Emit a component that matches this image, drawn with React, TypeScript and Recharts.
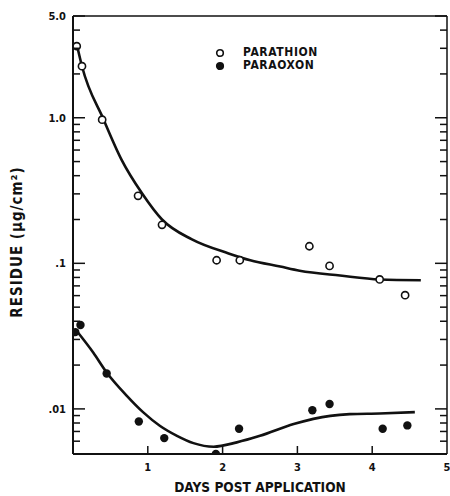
import { ComposedChart, Line, Scatter, XAxis, YAxis, Legend } from "recharts";

// observed residues (µg/cm²) by days post application
const parathionDays = [0.05, 0.12, 0.39, 0.87, 1.19, 1.92, 2.23, 3.16, 3.43, 4.1, 4.44];
const parathionResidue = [3.1, 2.26, 0.97, 0.291, 0.184, 0.105, 0.105, 0.131, 0.096, 0.0775, 0.0604];

const paraoxonDays = [0.03, 0.1, 0.45, 0.88, 1.22, 1.91, 2.22, 3.2, 3.43, 4.14, 4.47];
const paraoxonResidue = [0.0337, 0.0377, 0.0175, 0.0082, 0.0063, 0.0049, 0.0073, 0.0098, 0.0108, 0.0073, 0.0077];

// fitted curves
const parathionFitDays = [0.05, 0.12, 0.41, 0.65, 0.92, 1.19, 1.59, 2.08, 2.37, 2.77, 3.03, 3.57, 4.1, 4.65];
const parathionFitResidue = [3.2, 2.26, 0.97, 0.514, 0.304, 0.2, 0.146, 0.117, 0.105, 0.095, 0.089, 0.0824, 0.0775, 0.0766];

const paraoxonFitDays = [0.05, 0.27, 0.45, 0.72, 0.94, 1.16, 1.39, 1.61, 1.88, 2.19, 2.5, 2.95, 3.44, 3.7, 4.1, 4.57];
const paraoxonFitResidue = [0.0343, 0.0244, 0.0178, 0.0123, 0.00946, 0.00766, 0.00653, 0.00582, 0.0055, 0.00589, 0.00653, 0.00787, 0.00896, 0.0092, 0.0093, 0.0095];

const xTicks = [1, 2, 3, 4, 5];
const xTopTicks = [1, 2, 3, 4];
const yMajorTicks = [0.01, 0.1, 1, 5];
const yMajorLabels = [".01", ".1", "1.0", "5.0"];
const yMinorTicks = [
  0.006, 0.007, 0.008, 0.009,
  0.02, 0.03, 0.04, 0.05, 0.06, 0.07, 0.08, 0.09,
  0.2, 0.3, 0.4, 0.5, 0.6, 0.7, 0.8, 0.9,
  2, 3, 4,
];

const zip = (xs: number[], ys: number[]) => xs.map((x, i) => ({ x, y: ys[i] }));

const parathion = zip(parathionDays, parathionResidue);
const paraoxon = zip(paraoxonDays, paraoxonResidue);
const parathionFit = zip(parathionFitDays, parathionFitResidue);
const paraoxonFit = zip(paraoxonFitDays, paraoxonFitResidue);

const INK = "#111";
const FONT = "'Liberation Sans Narrow', 'DejaVu Sans Condensed', 'Arial Narrow', sans-serif";
const yTicks = [...yMinorTicks, ...yMajorTicks].sort((a, b) => a - b);

function LeftTick({ x, y, payload }: any) {
  const i = yMajorTicks.indexOf(payload.value);
  const len = i >= 0 ? 12 : 7;
  return (
    <g>
      <line x1={x} x2={x + len} y1={y} y2={y} stroke={INK} strokeWidth={1.5} />
      {i >= 0 && (
        <text x={x - 7} y={y} dy={4} textAnchor="end" fontFamily={FONT} fontWeight="bold" fontSize={11} fill={INK}>
          {yMajorLabels[i]}
        </text>
      )}
    </g>
  );
}

function RightTick({ x, y, payload }: any) {
  const len = yMajorTicks.includes(payload.value) ? 12 : 7;
  return <line x1={x} x2={x - len} y1={y} y2={y} stroke={INK} strokeWidth={1.5} />;
}

function BottomTick({ x, y, payload }: any) {
  return (
    <g>
      {payload.value < 5 && <line x1={x} x2={x} y1={y} y2={y - 8} stroke={INK} strokeWidth={1.5} />}
      <text x={x} y={y + 17} textAnchor="middle" fontFamily={FONT} fontWeight="bold" fontSize={11} fill={INK}>
        {payload.value}
      </text>
    </g>
  );
}

function TopTick({ x, y }: any) {
  return <line x1={x} x2={x} y1={y} y2={y + 6} stroke={INK} strokeWidth={1.5} />;
}

function YLabel({ viewBox }: any) {
  const cx = viewBox.x + 22;
  const cy = viewBox.y + viewBox.height / 2 + 7;
  return (
    <text
      x={cx}
      y={cy}
      transform={`rotate(-90 ${cx} ${cy})`}
      textAnchor="middle"
      fontFamily={FONT}
      fontWeight="bold"
      fontSize={15}
      letterSpacing={1}
      fill={INK}
    >
      RESIDUE (µg/cm²)
    </text>
  );
}

function LegendBox() {
  const rows = [
    { name: "PARATHION", fill: "#fff" },
    { name: "PARAOXON", fill: INK },
  ];
  return (
    <div style={{ fontFamily: FONT, fontWeight: "bold", fontSize: 12, color: INK, letterSpacing: 0.6 }}>
      {rows.map((r) => (
        <div key={r.name} style={{ display: "flex", alignItems: "center", height: 13 }}>
          <svg width={12} height={12}>
            <circle cx={6} cy={6} r={3.3} fill={r.fill} stroke={INK} strokeWidth={1.6} />
          </svg>
          <span style={{ marginLeft: 17, lineHeight: "13px" }}>{r.name}</span>
        </div>
      ))}
    </div>
  );
}

export default function App() {
  return (
    <div style={{ position: "absolute", left: 0, top: 0, background: "#fff" }}>
      <ComposedChart width={450} height={496} margin={{ top: 6, right: 0, bottom: 0, left: 0 }}>
        <XAxis
          dataKey="x"
          type="number"
          domain={[0, 5]}
          ticks={xTicks}
          allowDataOverflow
          height={42}
          tickSize={0}
          tickMargin={0}
          tick={<BottomTick />}
          axisLine={{ stroke: INK, strokeWidth: 2 }}
          tickLine={false}
          interval={0}
          label={{
            value: "DAYS POST APPLICATION",
            position: "insideBottom",
            offset: 4,
            fontFamily: FONT,
            fontWeight: "bold",
            fontSize: 13.6,
            fill: INK,
          }}
        />
        <XAxis
          xAxisId="top"
          orientation="top"
          type="number"
          domain={[0, 5]}
          ticks={xTopTicks}
          allowDataOverflow
          height={10}
          tickSize={0}
          tickMargin={0}
          tick={<TopTick />}
          axisLine={{ stroke: INK, strokeWidth: 1.5 }}
          tickLine={false}
          interval={0}
        />
        <YAxis
          dataKey="y"
          type="number"
          scale="log"
          domain={[0.0049, 5]}
          ticks={yTicks}
          allowDataOverflow
          width={73}
          tickSize={0}
          tickMargin={0}
          tick={<LeftTick />}
          axisLine={{ stroke: INK, strokeWidth: 2 }}
          tickLine={false}
          interval={0}
          label={<YLabel />}
        />
        <YAxis
          yAxisId="right"
          orientation="right"
          type="number"
          scale="log"
          domain={[0.0049, 5]}
          ticks={yTicks}
          allowDataOverflow
          width={3}
          tickSize={0}
          tickMargin={0}
          tick={<RightTick />}
          axisLine={{ stroke: INK, strokeWidth: 1.5 }}
          tickLine={false}
          interval={0}
        />
        <Legend
          layout="horizontal"
          verticalAlign="middle"
          align="center"
          wrapperStyle={{ left: 214, top: 46, width: 140 }}
          content={<LegendBox />}
        />
        <Line
          data={parathionFit}
          dataKey="y"
          type="monotone"
          stroke={INK}
          strokeWidth={2.6}
          dot={false}
          activeDot={false}
          legendType="none"
          isAnimationActive={false}
        />
        <Line
          data={paraoxonFit}
          dataKey="y"
          type="monotone"
          stroke={INK}
          strokeWidth={2.6}
          dot={false}
          activeDot={false}
          legendType="none"
          isAnimationActive={false}
        />
        <Scatter
          name="PARATHION"
          data={parathion}
          dataKey="y"
          shape={(p: any) => <circle cx={p.cx} cy={p.cy} r={3.6} fill="#fff" stroke={INK} strokeWidth={1.6} />}
          isAnimationActive={false}
        />
        <Scatter
          name="PARAOXON"
          data={paraoxon}
          dataKey="y"
          shape={(p: any) => <circle cx={p.cx} cy={p.cy} r={4.2} fill={INK} />}
          isAnimationActive={false}
        />
      </ComposedChart>
    </div>
  );
}
